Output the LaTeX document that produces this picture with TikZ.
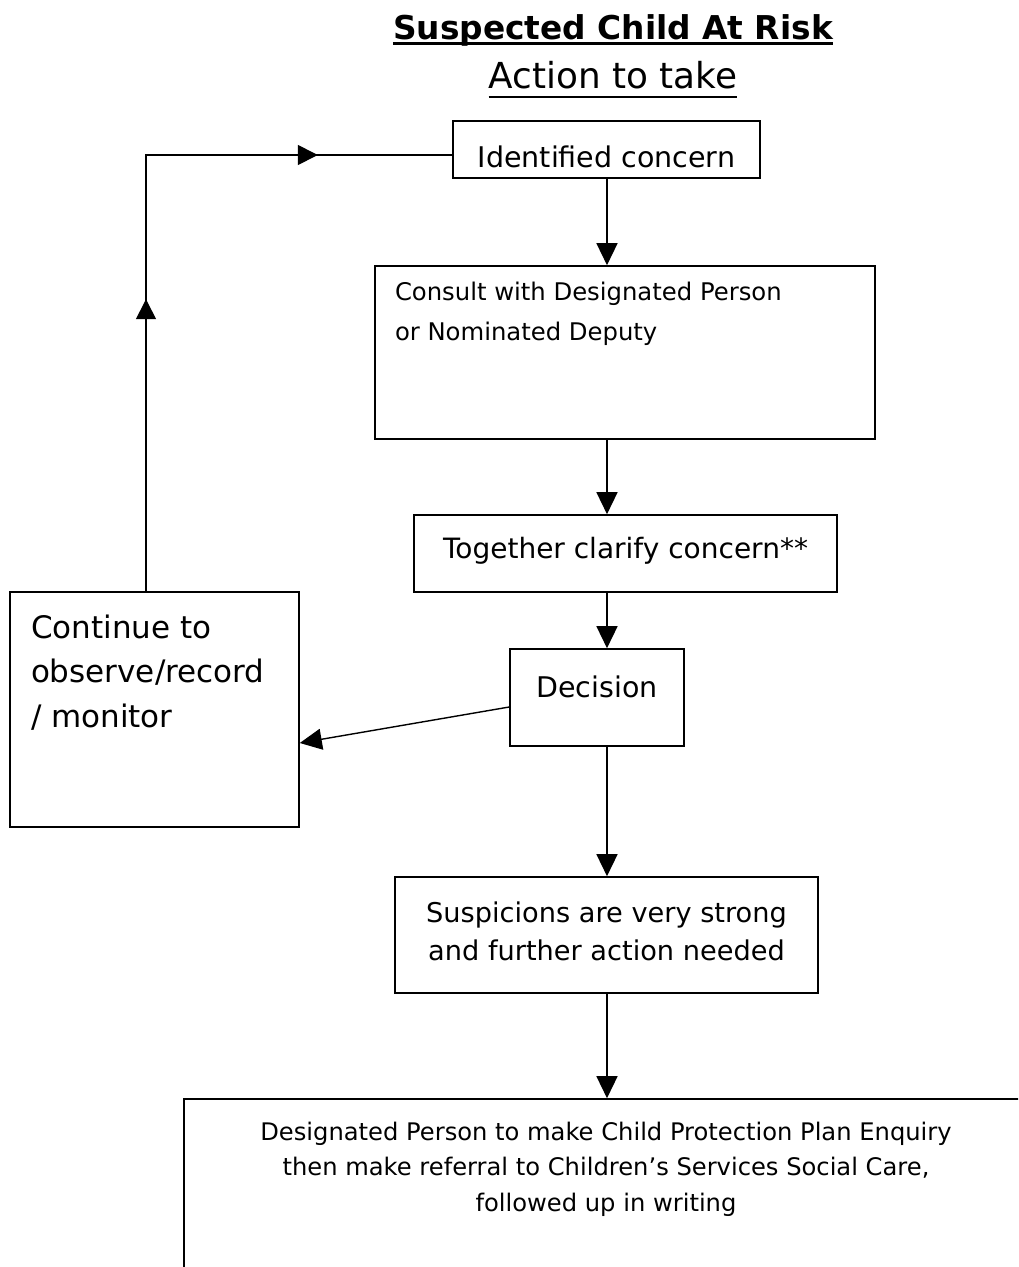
\documentclass[tikz,border=0pt]{standalone}
\usepackage{fontspec}
\setmainfont{DejaVu Sans}
\usetikzlibrary{arrows.meta,decorations.markings}
\newcommand{\fsz}[2]{\fontsize{#1}{#2}\selectfont}
\newcommand{\cbox}[4]{\parbox[c][#2][t]{#1}{\centering\rule{0pt}{#3}#4}}
\newcommand{\lbox}[5]{\parbox[c][#2][t]{#1}{\raggedright\leftskip=#4\relax\rule{0pt}{#3}#5}}
\tikzset{
  box/.style={draw, line width=1.6pt, inner sep=0pt, rectangle},
  conn/.style={line width=1.4pt},
  arr/.style={conn, -{Triangle[length=22pt,width=21pt]}},
  midtip/.tip={Triangle[length=20pt,width=20pt]},
}
\begin{document}
\begin{tikzpicture}[x=1pt,y=-1pt]
\useasboundingbox (0,0) rectangle (1018,1267);
\clip (0,0) rectangle (1018,1267);

% titles
\node[anchor=base, inner sep=0pt, font=\bfseries\fsz{32.8pt}{40pt}] (title) at (613,39) {Suspected Child At Risk};
\node[anchor=base, inner sep=0pt, font=\fsz{35.8pt}{42pt}] (action) at (613,88) {Action to take};
\draw[line width=3pt] ([yshift=-4pt]title.base west) -- ([yshift=-4pt]title.base east);
\draw[line width=2pt] ([yshift=-8.5pt]action.base west) -- ([yshift=-8.5pt]action.base east);

% boxes
\node[box, font=\fsz{28.5pt}{34pt}] (ident) at (606.5,149.5)
  {\cbox{307pt}{57pt}{46pt}{Identified concern}};
\node[box, font=\fsz{24.3pt}{40pt}] (consult) at (625,352.5)
  {\lbox{500pt}{173pt}{34pt}{20pt}{Consult with Designated Person\\or Nominated Deputy}};
\node[box, font=\fsz{28pt}{34pt}] (together) at (625.5,553.5)
  {\cbox{423pt}{77pt}{43pt}{Together clarify concern**}};
\node[box, font=\fsz{28.5pt}{34pt}] (dec) at (597,697.5)
  {\cbox{174pt}{97pt}{48pt}{Decision}};
\node[box, font=\fsz{31pt}{44.5pt}] (cont) at (154.5,709.5)
  {\lbox{289pt}{235pt}{46pt}{21pt}{Continue to\\observe/record\\/ monitor}};
\node[box, font=\fsz{27.2pt}{38pt}] (susp) at (606.5,935)
  {\cbox{423pt}{116pt}{45pt}{Suspicions are very strong\\and further action needed}};
\node[box, font=\fsz{24.2pt}{35.5pt}] (final) at (606,1194.5)
  {\cbox{844pt}{191pt}{41pt}{Designated Person to make Child Protection Plan Enquiry\\then make referral to Children’s Services Social Care,\\followed up in writing}};

% connectors
\coordinate (spine) at (607,0);
\draw[arr] (ident.south -| spine) -- (consult.north -| spine);
\draw[arr] (consult.south -| spine) -- (together.north -| spine);
\draw[arr] (together.south -| spine) -- (dec.north -| spine);
\draw[arr] (dec.south -| spine) -- (susp.north -| spine);
\draw[arr] (susp.south -| spine) -- (final.north -| spine);
\draw[arr] ([yshift=-9.5pt]dec.west) -- ([yshift=-33.5pt]cont.east);
\coordinate (fbstart) at ([xshift=-8.5pt]cont.north);
\coordinate (fbend) at ([yshift=-5.5pt]ident.west);
\draw[conn, postaction={decorate}, decoration={markings,
    mark=at position 292pt with {\arrow{midtip}},
    mark=at position 608pt with {\arrow{midtip}}}]
  (fbstart) -- (fbstart |- fbend) -- (fbend);
\end{tikzpicture}
\end{document}
